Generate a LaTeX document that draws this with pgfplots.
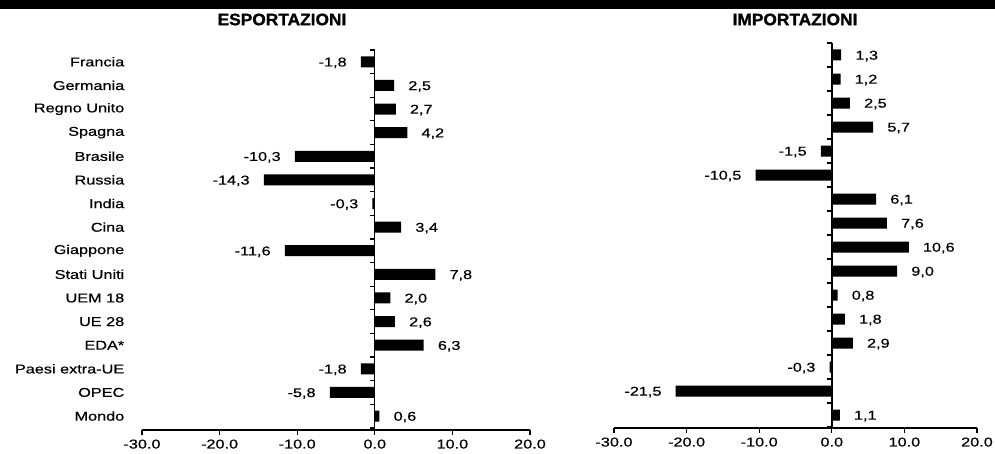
\documentclass[border=0pt]{standalone}
\usepackage{fontspec}
\setmainfont{Liberation Sans}[FakeStretch=1.27, FakeBold=0.6]
\newfontfamily\titlefont{Liberation Sans Bold}[FakeStretch=1.05, FakeBold=1.2]
\usepackage{pgfplots}
\pgfplotsset{compat=1.18}
\usepackage{pgfplotstable}

\newcommand\lbl{\fontsize{12.8}{14}\selectfont}

% esportazioni, Francia in alto (y=15) ... Mondo in basso (y=0)
\pgfplotstableread{
y  x     lab
15 -1.8  -1,8
14  2.5  2,5
13  2.7  2,7
12  4.2  4,2
11 -10.3 -10,3
10 -14.3 -14,3
9  -0.3  -0,3
8   3.4  3,4
7  -11.6 -11,6
6   7.8  7,8
5   2.0  2,0
4   2.6  2,6
3   6.3  6,3
2  -1.8  -1,8
1  -5.8  -5,8
0   0.6  0,6
}\exptab

% importazioni
\pgfplotstableread{
y  x     lab
15  1.3  1,3
14  1.2  1,2
13  2.5  2,5
12  5.7  5,7
11 -1.5  -1,5
10 -10.5 -10,5
9   6.1  6,1
8   7.6  7,6
7  10.6  10,6
6   9.0  9,0
5   0.8  0,8
4   1.8  1,8
3   2.9  2,9
2  -0.3  -0,3
1  -21.5 -21,5
0   1.1  1,1
}\imptab

\pgfplotsset{
  panel/.style={
    scale only axis, anchor=south west,
    xbar, bar width=11pt, bar shift=0pt,
    xmin=-30, xmax=20, ymax=15.5,
    axis x line=bottom, axis y line=middle,
    axis line style={-, line width=1.4pt},
    hide obscured x ticks=false,
    xtick={-30,-20,...,20},
    xticklabels={-30.0,-20.0,-10.0,0.0,10.0,20.0},
    xticklabel style={yshift=-1pt},
    ytick={-0.5,0.5,...,15.5}, yticklabels={},
    tick align=outside, major tick length=5pt,
    tick style={black, line width=1.3pt},
    tick label style={font=\lbl},
    point meta=explicit symbolic,
    nodes near coords={\pgfplotspointmeta},
    nodes near coords style={font=\lbl, inner xsep=14pt, inner ysep=0pt, yshift=-1pt},
  },
  pos/.style={fill=black, draw=none, restrict x to domain=0:30,
    nodes near coords style={anchor=west}},
  neg/.style={fill=black, draw=none, restrict x to domain=-30:0,
    nodes near coords style={anchor=east}},
}

\begin{document}
\begin{tikzpicture}
\path[use as bounding box] (0pt,0pt) rectangle (995pt,-454pt);
\fill[black] (0pt,0pt) rectangle (995pt,-9pt);
\node[font=\titlefont\fontsize{16.5}{18}\selectfont] at (282pt,-19.5pt) {ESPORTAZIONI};
\node[font=\titlefont\fontsize{16.5}{18}\selectfont] at (795pt,-19.5pt) {IMPORTAZIONI};

\begin{axis}[panel, at={(142pt,-430pt)}, width=388pt, height=380pt, ymin=-0.59,
  extra y ticks={0,...,15},
  extra y tick labels={Mondo,OPEC,Paesi extra-UE,EDA*,UE 28,UEM 18,Stati Uniti,Giappone,Cina,India,Russia,Brasile,Spagna,Regno Unito,Germania,Francia},
  extra y tick style={major tick length=0pt, yticklabel style={xshift=-247pt}},
]
\addplot[pos] table[x=x, y=y, meta=lab] {\exptab};
\addplot[neg] table[x=x, y=y, meta=lab] {\exptab};
\end{axis}

\begin{axis}[panel, at={(614pt,-428pt)}, width=363pt, height=385pt, ymin=-0.54]
\addplot[pos] table[x=x, y=y, meta=lab] {\imptab};
\addplot[neg] table[x=x, y=y, meta=lab] {\imptab};
\end{axis}
\end{tikzpicture}
\end{document}
